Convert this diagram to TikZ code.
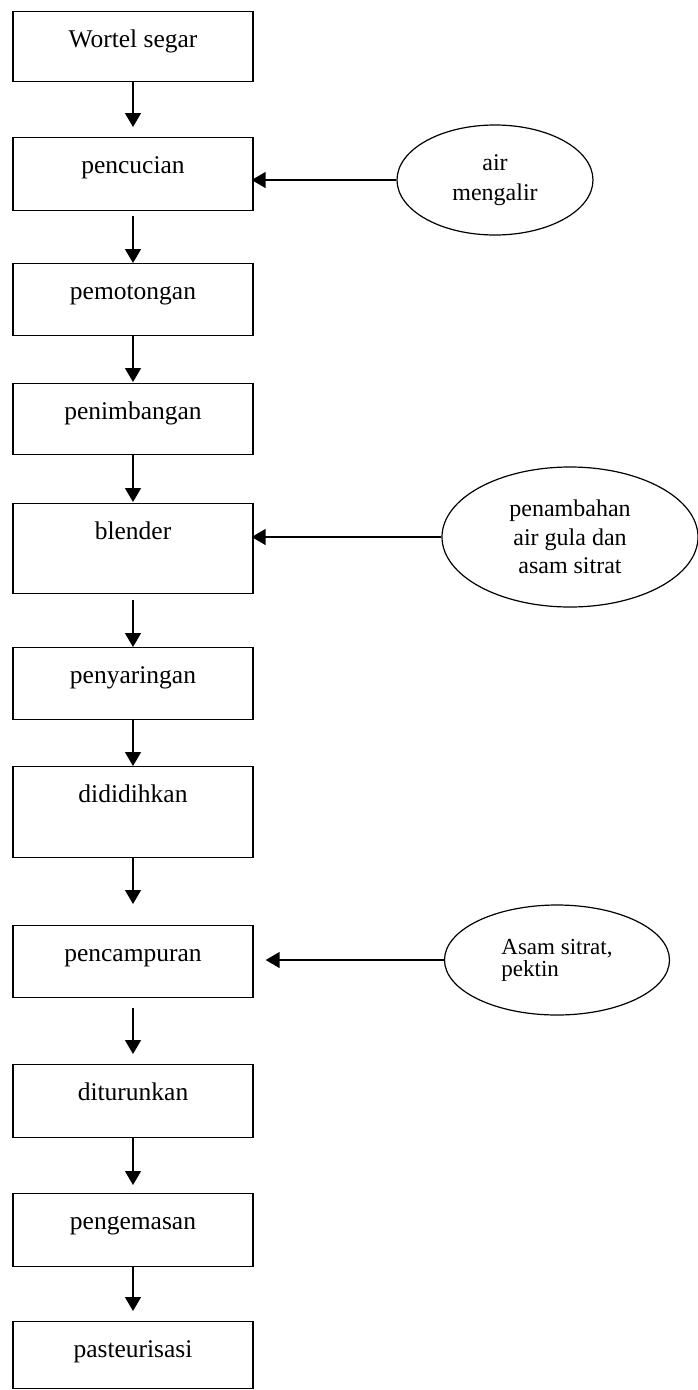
\documentclass[tikz,border=0pt]{standalone}
\usepackage{fontspec}
\setmainfont{Liberation Serif}
\usetikzlibrary{shapes.geometric,arrows.meta}
\begin{document}
\begin{tikzpicture}[x=1pt,y=-1pt,
  box/.style={draw, line width=1.3pt, minimum width=240pt, inner sep=0pt, anchor=north,
    font=\fontsize{25.5}{30}\selectfont, text height=36pt},
  oval/.style={draw, ellipse, line width=1.2pt, inner sep=0pt, align=center,
    font=\fontsize{24}{30}\selectfont},
  arr/.style={line width=1.4pt, -{Triangle[length=14pt,width=16pt]}}]
\useasboundingbox (0,0) rectangle (697,1390);
% process boxes
\node[box, text depth=34pt] (b1) at (133,11) {Wortel segar};
\node[box, text depth=37pt] (b2) at (133,137) {pencucian};
\node[box, text depth=36pt] (b3) at (133,263) {pemotongan};
\node[box, text depth=35pt] (b4) at (133,383) {penimbangan};
\node[box, text depth=54pt] (b5) at (133,503) {blender};
\node[box, text depth=36pt] (b6) at (133,647) {penyaringan};
\node[box, text depth=55pt] (b7) at (133,766) {dididihkan};
\node[box, text depth=36pt] (b8) at (133,925) {pencampuran};
\node[box, text depth=37pt] (b9) at (133,1064) {diturunkan};
\node[box, text depth=37pt] (b10) at (133,1193) {pengemasan};
\node[box, text depth=31pt] (b11) at (133,1321) {pasteurisasi};
% inputs
\node[oval, minimum width=196pt, minimum height=110pt] (e1) at (495,180) {air\\mengalir};
\node[oval, minimum width=256pt, minimum height=140pt, font=\fontsize{24}{28.5}\selectfont] (e2) at (570,537) {penambahan\\air gula dan\\asam sitrat};
\node[oval, minimum width=225pt, minimum height=110pt, align=left, font=\fontsize{23}{22}\selectfont] (e3) at (557,960) {Asam sitrat,\\pektin};
% flow
\draw[arr, shorten >=10pt] (b1.south) -- (b2.north);
\draw[arr, shorten <=5pt] (b2.south) -- (b3.north);
\draw[arr, shorten >=1pt] (b3.south) -- (b4.north);
\draw[arr, shorten >=1pt] (b4.south) -- (b5.north);
\draw[arr, shorten <=6pt] (b5.south) -- (b6.north);
\draw[arr] (b6.south) -- (b7.north);
\draw[arr, shorten >=21pt] (b7.south) -- (b8.north);
\draw[arr, shorten <=10pt, shorten >=10pt] (b8.south) -- (b9.north);
\draw[arr, shorten >=8pt] (b9.south) -- (b10.north);
\draw[arr, shorten >=10pt] (b10.south) -- (b11.north);
% side inputs
\draw[arr, shorten >=-2pt] (e1.west) -- (b2.east |- e1.west);
\draw[arr, shorten >=-2pt] (e2.west) -- (b5.east |- e2.west);
\draw[arr, shorten >=12pt] (e3.west) -- (b8.east |- e3.west);
\end{tikzpicture}
\end{document}
